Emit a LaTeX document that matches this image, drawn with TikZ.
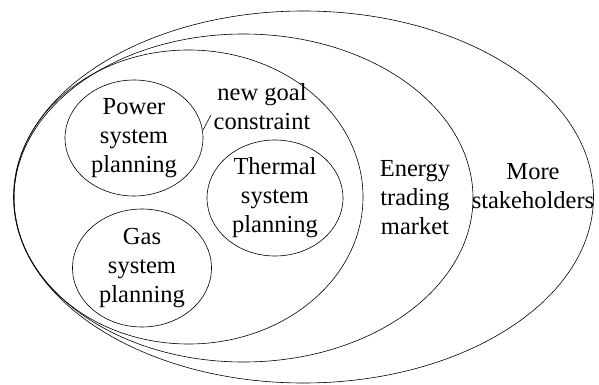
\documentclass[tikz,border=0pt]{standalone}
\usepackage{fontspec}
\setmainfont{Liberation Serif}
\usetikzlibrary{shapes.geometric}
\begin{document}
\begin{tikzpicture}[x=1pt,y=-1pt,line width=0.6pt,
  txt/.style={align=center,font=\fontsize{24.5}{29}\selectfont},
  plan/.style={txt,draw,ellipse,inner sep=0pt}]
\useasboundingbox (0,0) rectangle (599,385);
\draw (303.5,197) ellipse (290pt and 186pt);
\draw (243.5,198) ellipse (229.5pt and 164pt);
\draw (188.5,197) ellipse (174.5pt and 147pt);
\node[plan,minimum width=138pt,minimum height=116pt] (power) at (134,138) {Power\\system\\planning};
\node[plan,minimum width=136pt,minimum height=116pt] (thermal) at (275,198) {Thermal\\system\\planning};
\node[plan,minimum width=139pt,minimum height=118pt] (gas) at (142,268) {Gas\\system\\planning};
\node[txt] (goal) at (262,107) {new goal\\constraint};
\node[txt] (market) at (415,198) {Energy\\trading\\market};
\node[txt] (stake) at (533,186) {More\\stakeholders};
% leader from the label to the power ellipse
\coordinate (g1) at (211,115);
\coordinate (g2) at (203,130);
\draw (g1) -- (g2);
\end{tikzpicture}
\end{document}
